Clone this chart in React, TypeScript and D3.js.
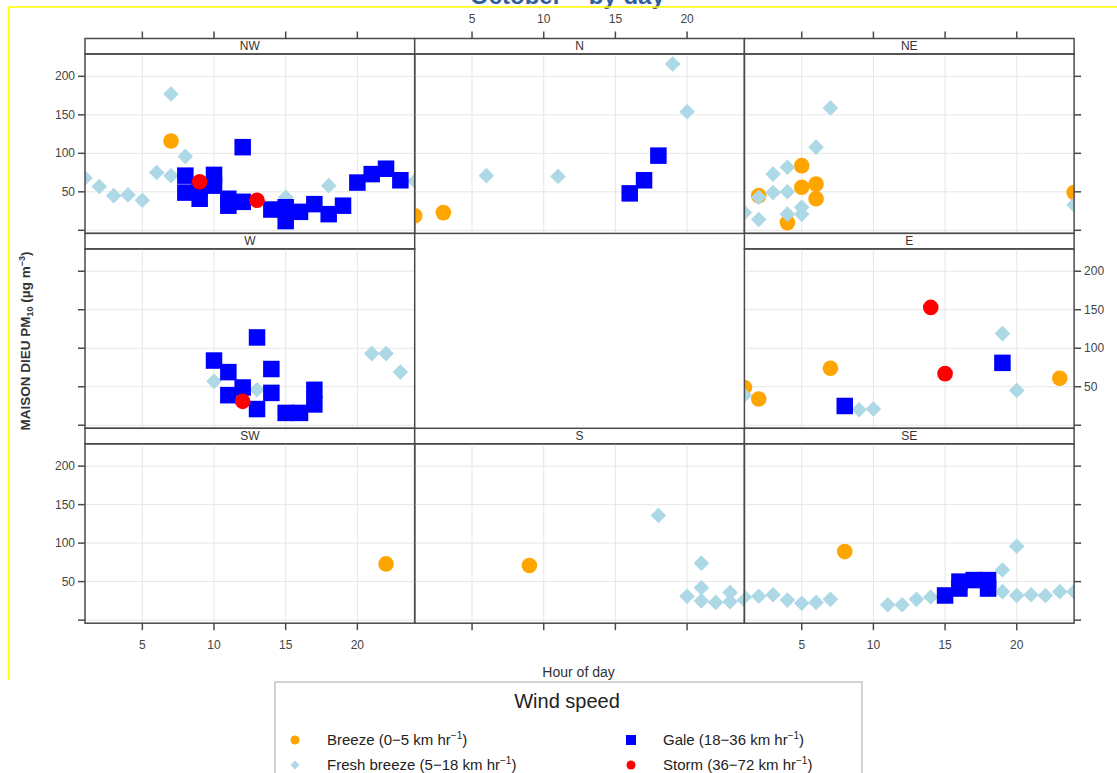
import React from 'react';
import * as d3 from 'd3';

// [wind direction, hour of day, PM10 (µg m-3)]
type Obs = [string, number, number];

const directions = ['NW', 'N', 'NE', 'W', '', 'E', 'SW', 'S', 'SE'];
const hourTicks = [5, 10, 15, 20];
const pmTicks = [0, 50, 100, 150, 200];
const pmLabelled = [50, 100, 150, 200];

const breeze: Obs[] = [
  ['NW', 7, 116],
  ['N', 1, 19], ['N', 3, 23],
  ['NE', 2, 45], ['NE', 4, 10], ['NE', 5, 84], ['NE', 5, 56], ['NE', 6, 60], ['NE', 6, 41], ['NE', 24, 49],
  ['E', 1, 49], ['E', 2, 34], ['E', 7, 74], ['E', 23, 61],
  ['SW', 22, 73],
  ['S', 9, 71],
  ['SE', 8, 89],
];

const freshBreeze: Obs[] = [
  ['NW', 1, 68], ['NW', 2, 57], ['NW', 3, 45], ['NW', 4, 46], ['NW', 5, 39], ['NW', 6, 75], ['NW', 7, 177],
  ['NW', 7, 71], ['NW', 8, 96], ['NW', 15, 43], ['NW', 18, 58], ['NW', 24, 64],
  ['N', 6, 71], ['N', 11, 70], ['N', 19, 216], ['N', 20, 154],
  ['NE', 1, 23], ['NE', 2, 14], ['NE', 2, 43], ['NE', 3, 73], ['NE', 3, 49], ['NE', 4, 82], ['NE', 4, 50],
  ['NE', 4, 21], ['NE', 5, 30], ['NE', 5, 21], ['NE', 6, 108], ['NE', 7, 159], ['NE', 24, 33],
  ['W', 10, 57], ['W', 13, 46], ['W', 21, 93], ['W', 22, 93], ['W', 23, 69],
  ['E', 1, 39], ['E', 9, 20], ['E', 10, 21], ['E', 19, 119], ['E', 20, 45],
  ['S', 18, 136], ['S', 20, 31], ['S', 21, 74], ['S', 21, 42], ['S', 21, 25], ['S', 22, 23], ['S', 23, 36],
  ['S', 23, 24], ['S', 24, 26],
  ['SE', 1, 30], ['SE', 2, 31], ['SE', 3, 33], ['SE', 4, 26], ['SE', 5, 22], ['SE', 6, 23], ['SE', 7, 27],
  ['SE', 11, 20], ['SE', 12, 20], ['SE', 13, 27], ['SE', 14, 30], ['SE', 19, 65], ['SE', 20, 96], ['SE', 19, 37],
  ['SE', 20, 32], ['SE', 21, 33], ['SE', 22, 32], ['SE', 23, 37], ['SE', 24, 37],
];

const gale: Obs[] = [
  ['NW', 8, 71], ['NW', 8, 49], ['NW', 9, 55], ['NW', 9, 41], ['NW', 10, 72], ['NW', 10, 58], ['NW', 11, 41],
  ['NW', 11, 32], ['NW', 12, 108], ['NW', 12, 37], ['NW', 14, 27], ['NW', 15, 30], ['NW', 15, 12], ['NW', 16, 24],
  ['NW', 17, 34], ['NW', 18, 21], ['NW', 19, 32], ['NW', 20, 62], ['NW', 21, 73], ['NW', 22, 80], ['NW', 23, 65],
  ['N', 16, 48], ['N', 17, 65], ['N', 18, 97],
  ['W', 10, 84], ['W', 11, 69], ['W', 11, 39], ['W', 12, 49], ['W', 13, 114], ['W', 13, 21], ['W', 14, 73],
  ['W', 14, 42], ['W', 15, 16], ['W', 16, 16], ['W', 17, 46], ['W', 17, 27],
  ['E', 8, 25], ['E', 19, 81],
  ['SE', 15, 32], ['SE', 16, 50], ['SE', 16, 41], ['SE', 17, 52], ['SE', 18, 52], ['SE', 18, 41],
];

const storm: Obs[] = [
  ['NW', 9, 63], ['NW', 13, 39],
  ['W', 12, 31],
  ['E', 14, 153], ['E', 15, 67],
];

const windClasses = [
  { name: 'Breeze (0\u22125 km hr', color: '#FFA500', shape: 'circle', data: breeze },
  { name: 'Fresh breeze (5\u221218 km hr', color: '#ADD8E6', shape: 'diamond', data: freshBreeze },
  { name: 'Gale (18\u221236 km hr', color: '#0000FF', shape: 'square', data: gale },
  { name: 'Storm (36\u221272 km hr', color: '#FF0000', shape: 'circle', data: storm },
];

const FONT = 'Liberation Sans, Arial, Helvetica, sans-serif';
const GX = 85;
const GY = 38.5;
const COL_W = 329.7;
const ROW_H = 194.9;
const STRIP_H = 15.5;
const PLOT_H = ROW_H - STRIP_H;
const BORDER = '#4a4a4a';
const TICK_TXT = '#444';

function Mark({ shape, color, cx, cy, size }: { shape: string; color: string; cx: number; cy: number; size: number }) {
  if (shape === 'circle') return <circle cx={cx} cy={cy} r={size / 2} fill={color} />;
  if (shape === 'square')
    return <rect x={cx - size / 2} y={cy - size / 2} width={size} height={size} fill={color} />;
  const s = size / Math.SQRT2;
  return (
    <rect x={-s / 2} y={-s / 2} width={s} height={s} fill={color}
      transform={`translate(${cx},${cy}) rotate(45)`} />
  );
}

const markSize: Record<string, number> = { circle: 15.6, square: 16.5, diamond: 15.6 };

export default function App() {
  const x = d3.scaleLinear().domain([1, 24]).range([0, COL_W]);
  const y = d3.scaleLinear().domain([-4, 229]).range([PLOT_H, 0]);

  const panels = directions
    .map((dir, i) => ({ dir, col: i % 3, row: Math.floor(i / 3) }))
    .filter((p) => p.dir !== '');

  const lastCol = GX + 3 * COL_W;
  const bottomY = GY + 3 * ROW_H;

  return (
    <svg width={1117} height={773} style={{ position: 'absolute', left: 0, top: 0, background: '#fff' }}
      fontFamily={FONT}>
      <defs>
        <clipPath id="plotClip">
          <rect x={0} y={0} width={COL_W} height={PLOT_H} />
        </clipPath>
      </defs>

      {/* page frame and heading */}
      <text x={470} y={4} fontSize={24} fontWeight="bold" fill="#2f5d9e">{'October \u2013 by day'}</text>
      <line x1={8} x2={1117} y1={7} y2={7} stroke="#ffff00" strokeWidth={1.5} />
      <line x1={8.5} x2={8.5} y1={7} y2={680} stroke="#ffff00" strokeWidth={1.5} />

      {panels.map((p) => {
        const px = GX + p.col * COL_W;
        const py = GY + p.row * ROW_H;
        return (
          <g key={p.dir} transform={`translate(${px},${py})`}>
            <rect x={0} y={0} width={COL_W} height={STRIP_H} fill="#fff" stroke={BORDER} strokeWidth={1.5} />
            <text x={COL_W / 2} y={STRIP_H / 2 + 4} textAnchor="middle" fontSize={12} fill="#333">{p.dir}</text>
            <g transform={`translate(0,${STRIP_H})`}>
              {hourTicks.map((h) => (
                <line key={'gx' + h} x1={x(h)} x2={x(h)} y1={0} y2={PLOT_H} stroke="#e6e6e6" strokeWidth={1} />
              ))}
              {pmTicks.map((v) => (
                <line key={'gy' + v} x1={0} x2={COL_W} y1={y(v)} y2={y(v)} stroke="#e6e6e6" strokeWidth={1} />
              ))}
              <g clipPath="url(#plotClip)">
                {windClasses.map((wc) =>
                  wc.data
                    .filter((d) => d[0] === p.dir)
                    .map((d, i) => (
                      <Mark key={wc.name + i} shape={wc.shape} color={wc.color}
                        cx={x(d[1])} cy={y(d[2])} size={markSize[wc.shape]} />
                    ))
                )}
              </g>
              <rect x={0} y={0} width={COL_W} height={PLOT_H} fill="none" stroke={BORDER} strokeWidth={1.5} />
            </g>
          </g>
        );
      })}

      {/* left axis */}
      {[0, 1, 2].map((r) => {
        const top = GY + r * ROW_H + STRIP_H;
        return pmTicks.map((v) => (
          <g key={`l${r}-${v}`}>
            <line x1={GX - 7} x2={GX} y1={top + y(v)} y2={top + y(v)} stroke={BORDER} strokeWidth={1.5} />
            {r !== 1 && pmLabelled.includes(v) && (
              <text x={GX - 10} y={top + y(v) + 4} textAnchor="end" fontSize={12} fill={TICK_TXT}>{v}</text>
            )}
          </g>
        ));
      })}

      {/* right axis */}
      {[0, 1, 2].map((r) => {
        const top = GY + r * ROW_H + STRIP_H;
        return pmTicks.map((v) => (
          <g key={`r${r}-${v}`}>
            <line x1={lastCol} x2={lastCol + 7} y1={top + y(v)} y2={top + y(v)} stroke={BORDER} strokeWidth={1.5} />
            {r === 1 && pmLabelled.includes(v) && (
              <text x={lastCol + 10} y={top + y(v) + 4} textAnchor="start" fontSize={12} fill={TICK_TXT}>{v}</text>
            )}
          </g>
        ));
      })}

      {/* top axis */}
      {[0, 1, 2].map((c) =>
        hourTicks.map((h) => {
          const tx = GX + c * COL_W + x(h);
          return (
            <g key={`t${c}-${h}`}>
              <line x1={tx} x2={tx} y1={GY - 7} y2={GY} stroke={BORDER} strokeWidth={1.5} />
              {c === 1 && (
                <text x={tx} y={GY - 16} textAnchor="middle" fontSize={12} fill={TICK_TXT}>{h}</text>
              )}
            </g>
          );
        })
      )}

      {/* bottom axis */}
      {[0, 1, 2].map((c) =>
        hourTicks.map((h) => {
          const tx = GX + c * COL_W + x(h);
          return (
            <g key={`b${c}-${h}`}>
              <line x1={tx} x2={tx} y1={bottomY} y2={bottomY + 7} stroke={BORDER} strokeWidth={1.5} />
              {c !== 1 && (
                <text x={tx} y={bottomY + 26} textAnchor="middle" fontSize={12} fill={TICK_TXT}>{h}</text>
              )}
            </g>
          );
        })
      )}

      {/* axis titles */}
      <text x={GX + 1.5 * COL_W - 1} y={677} textAnchor="middle" fontSize={14} fill="#333">Hour of day</text>
      <text transform={`translate(30,341) rotate(-90)`} textAnchor="middle" fontSize={13.5}
        fontWeight="bold" fill="#333">
        MAISON DIEU PM<tspan dy={3} fontSize={9}>10</tspan>
        <tspan dy={-3}> (µg m</tspan>
        <tspan dy={-5} fontSize={9}>{'\u22123'}</tspan>
        <tspan dy={5}>)</tspan>
      </text>

      {/* legend */}
      <rect x={275} y={682} width={587} height={110} fill="#fff" stroke="#c4c4c4" strokeWidth={1.5} />
      <text x={567} y={708} textAnchor="middle" fontSize={20} fill="#222">Wind speed</text>
      {windClasses.map((wc, i) => {
        const lx = i < 2 ? 295 : 631;
        const ly = i % 2 === 0 ? 740 : 765;
        const size = wc.shape === 'square' ? 10 : 9;
        return (
          <g key={wc.name}>
            <Mark shape={wc.shape} color={wc.color} cx={lx} cy={ly} size={size} />
            <text x={lx + 32} y={ly + 5} fontSize={15} fill="#222">
              {wc.name}
              <tspan dy={-6} fontSize={10}>{'\u22121'}</tspan>
              <tspan dy={6}>)</tspan>
            </text>
          </g>
        );
      })}
    </svg>
  );
}
